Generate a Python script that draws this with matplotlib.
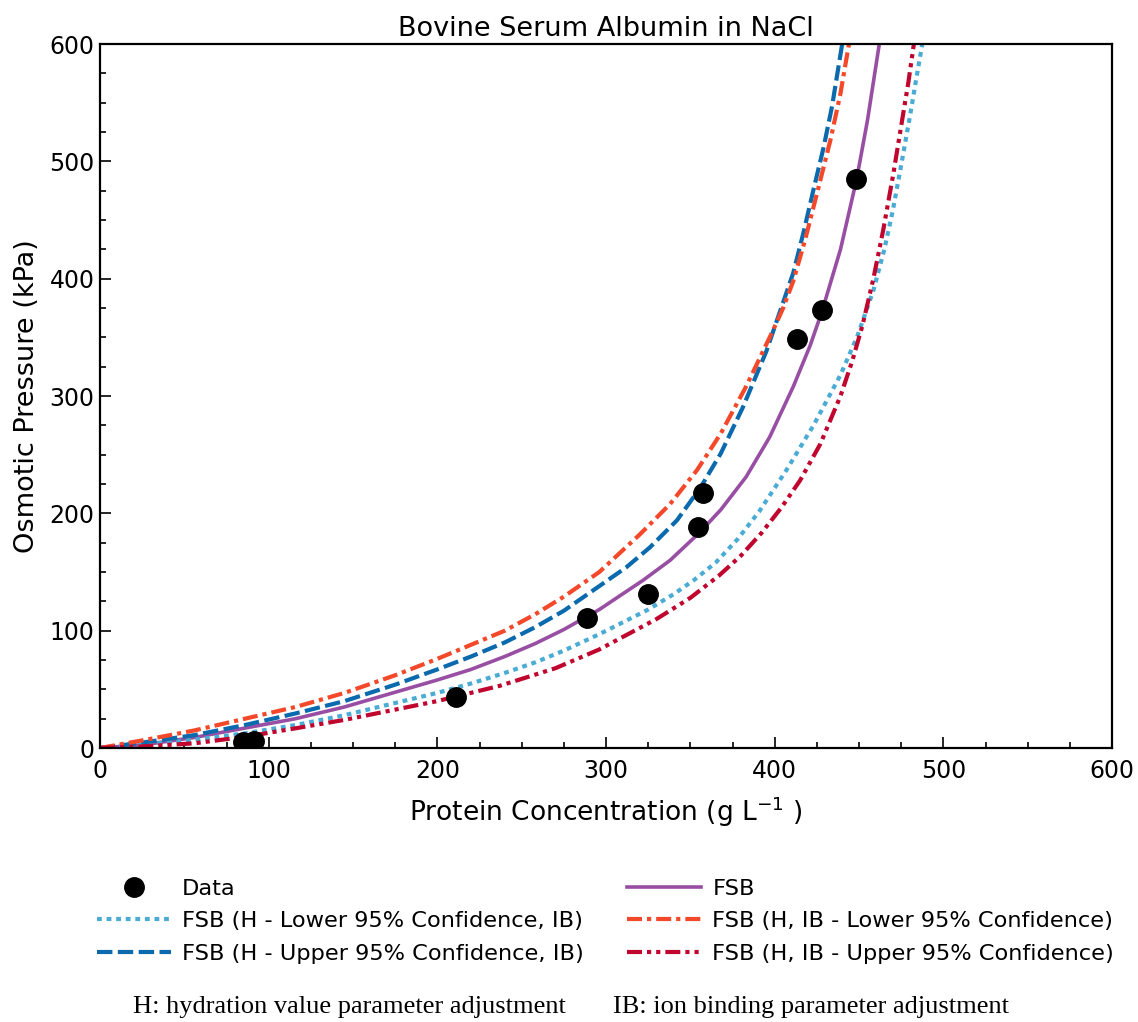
#!/usr/bin/env python3

import matplotlib
matplotlib.use('Agg')
import matplotlib.pyplot as plt
from matplotlib.ticker import MultipleLocator

# measured points
data_conc = [85, 91, 211, 289, 325, 354.5, 357.5, 413, 428, 448]
data_pres = [5, 6, 43.5, 111, 131, 188, 217, 349, 373, 485]

# model curves
fsb_conc = [0, 27, 56, 86, 116, 145, 200, 220, 240, 258, 275, 296, 322, 338,
            355, 368, 383, 397, 411, 421, 428, 439, 448.6, 455, 462]
fsb_pres = [0, 3, 9, 17, 25, 35, 58, 67, 78, 89, 101, 118, 143, 160,
            183, 203, 231, 265, 308, 343, 372, 425, 485, 535, 600]

hlo_conc = [0, 27, 56, 86, 116, 145, 200, 220, 240, 258, 275, 296, 325, 340,
            352, 365, 378, 391, 407, 423, 439, 449, 458.5, 465, 470, 475, 480,
            484, 487.5]
hlo_pres = [0, 3, 7, 12.5, 19.6, 28, 47, 55, 64, 73, 83, 97, 118, 131,
            143, 158, 178, 202, 237, 275, 318, 351, 390, 425, 458, 497, 537,
            571, 600]

hup_conc = [0, 27, 56, 86, 116, 145, 175, 200, 220, 240, 258, 275, 296, 312,
            326, 342, 356, 368, 381, 395, 411, 417, 423, 429, 434, 440]
hup_pres = [0, 5, 11, 19.6, 29.5, 40, 54, 67, 78, 90, 103, 117, 138, 154,
            171, 194, 222, 251, 290, 338, 405, 439, 476, 512, 547, 600]

iblo_conc = [0, 27, 56, 86, 116, 145, 175, 200, 220, 240, 258, 275, 296, 320,
             338, 354, 368, 383, 399, 405, 411, 418, 426, 433, 439, 444]
iblo_pres = [0, 7, 15, 25, 35, 47, 62, 76, 88, 100, 114, 129, 150, 182,
             208, 237, 268, 308, 356, 375, 398, 433, 478, 518, 558, 600]

ibup_conc = [0, 27, 56, 86, 116, 145, 200, 237, 270, 296, 330, 350, 367, 380,
             392, 404, 415, 427, 439, 446, 452, 458.5, 464.4, 470.4, 475.3,
             479.2, 482.5]
ibup_pres = [0, 1.5, 4, 9.6, 16.8, 24, 40, 53, 68, 84, 110, 128, 147, 164,
             183, 205, 228, 259, 300, 330, 360, 400, 442, 490, 533,
             567, 600]


def main():
    fig = plt.figure(figsize=(11.38, 10.22), dpi=100)
    ax = fig.add_axes([0.0879, 0.2681, 0.8893, 0.6888])

    lw = 3.0
    pts, = ax.plot(data_conc, data_pres, 'o', color='black', ms=14,
                   label='Data', zorder=5)
    lf, = ax.plot(fsb_conc, fsb_pres, '-', color='#984ea3', lw=2.6, label='FSB')
    l1, = ax.plot(hlo_conc, hlo_pres, color='#4aabd4', lw=lw,
                  dashes=(1.15, 1.15), dash_capstyle='butt',
                  label='FSB (H - Lower 95% Confidence, IB)')
    l2, = ax.plot(hup_conc, hup_pres, color='#0b6aad', lw=lw,
                  dashes=(3.7, 1.3), label='FSB (H - Upper 95% Confidence, IB)')
    l3, = ax.plot(iblo_conc, iblo_pres, color='#f4482a', lw=lw,
                  dashes=(3.6, 1.2, 1.0, 1.2),
                  label='FSB (H, IB - Lower 95% Confidence)')
    l4, = ax.plot(ibup_conc, ibup_pres, color='#c0062e', lw=lw,
                  dashes=(3.6, 1.2, 1.0, 1.2, 1.0, 1.2),
                  label='FSB (H, IB - Upper 95% Confidence)')

    ax.set_xlim(0, 600)
    ax.set_ylim(0, 600)
    ax.xaxis.set_major_locator(MultipleLocator(100))
    ax.xaxis.set_minor_locator(MultipleLocator(25))
    ax.yaxis.set_major_locator(MultipleLocator(100))
    ax.yaxis.set_minor_locator(MultipleLocator(25))
    ax.tick_params(which='both', direction='in', top=False, right=False,
                   labelsize=17, width=1.2)
    ax.tick_params(which='major', length=8)
    ax.tick_params(which='minor', length=4)
    ax.tick_params(axis='x', pad=8)
    ax.tick_params(axis='y', pad=4)
    for sp in ax.spines.values():
        sp.set_linewidth(1.6)

    ax.set_title('Bovine Serum Albumin in NaCl', fontsize=19.5, pad=6)
    ax.set_xlabel('Protein Concentration (g L$^{-1}$ )', fontsize=19,
                  labelpad=8)
    ax.set_ylabel('Osmotic Pressure (kPa)', fontsize=19.5, labelpad=7)

    fig.legend(handles=[pts, l1, l2, lf, l3, l4], ncol=2, frameon=False,
               loc='upper left', bbox_to_anchor=(0.077, 0.149),
               fontsize=16.2, handlelength=3.3, handletextpad=0.5,
               labelspacing=0.56, columnspacing=1.9, numpoints=1,
               borderaxespad=0)

    fig.text(0.117, 0.004, 'H: hydration value parameter adjustment',
             family='Liberation Serif', fontsize=19, va='bottom')
    fig.text(0.539, 0.004, 'IB: ion binding parameter adjustment',
             family='Liberation Serif', fontsize=19, va='bottom')

    fig.savefig('out.png', dpi=100)


if __name__ == '__main__':
    main()
